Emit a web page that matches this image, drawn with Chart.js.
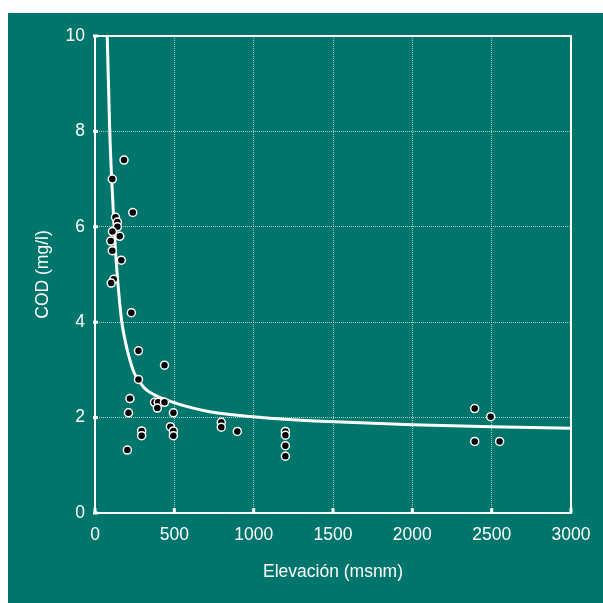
<!DOCTYPE html>
<html>
<head>
<meta charset="utf-8">
<script src="https://cdn.jsdelivr.net/npm/chart.js@4"></script>
<style>
    body { margin: 0; background: #ffffff; }
    #panel { position: absolute; left: 8px; top: 13px; width: 595px; height: 590px; background: #00756c; }
    canvas { display: block; }
</style>
</head>
<body>
<div id="panel"><canvas id="grafico-cod" width="595" height="590"></canvas></div>
<script>
// Puntos medidos: elevacion (msnm) y COD (mg/l)
const elevacion = [183, 109, 238, 129, 141, 141, 110, 156, 99, 109, 166, 118, 102,
    229, 274, 438, 274, 220, 375, 398, 438, 393, 211, 494, 475, 494, 494, 294, 294,
    796, 796, 897, 1200, 1200, 1200, 1200, 204, 2393, 2494, 2393, 2550]
const cod = [7.4, 7.0, 6.3, 6.2, 6.1, 6.0, 5.9, 5.8, 5.7, 5.5, 5.3, 4.9, 4.82,
    4.2, 3.4, 3.1, 2.8, 2.4, 2.32, 2.32, 2.32, 2.2, 2.1, 2.1, 1.81, 1.72, 1.62, 1.72, 1.62,
    1.9, 1.8, 1.71, 1.71, 1.63, 1.41, 1.19, 1.32, 2.19, 2.02, 1.5, 1.5]

// Curva de ajuste
const curvaX = [77, 93, 105, 122, 130, 148, 169, 189, 214, 248, 311, 378, 476, 582, 714, 924, 1176, 1386, 2000, 2500, 3000]
const curvaY = [10, 8.0, 7.0, 5.93, 5.45, 4.68, 4.0, 3.63, 3.28, 2.93, 2.62, 2.47, 2.34, 2.23, 2.13, 2.04, 1.97, 1.93, 1.85, 1.81, 1.775]

const ticksX = [0, 500, 1000, 1500, 2000, 2500, 3000]
const ticksY = [0, 2, 4, 6, 8, 10]

const fuente = { family: '"Liberation Sans", Arial, sans-serif', size: 17.5 }

// marco blanco y marcas de tick hacia dentro
const marco = {
    id: 'marco',
    beforeDatasetsDraw(chart) {
        const { ctx, chartArea: a, scales } = chart
        ctx.save()
        ctx.strokeStyle = '#ffffff'
        ctx.fillStyle = '#ffffff'
        ctx.lineWidth = 2
        ctx.strokeRect(a.left, a.top, a.right - a.left, a.bottom - a.top)
        ticksX.forEach(v => {
            const px = scales.x.getPixelForValue(v)
            ctx.fillRect(px - 1.5, a.bottom - 5, 3, 5)
        })
        ticksY.forEach(v => {
            const py = scales.y.getPixelForValue(v)
            ctx.fillRect(a.left - 2, py - 1.5, 5, 3)
        })
        ctx.restore()
    }
}

let graficoCod = new Chart(
    document.getElementById('grafico-cod'),
    {
        type: 'scatter',
        data: {
            datasets: [{
                label: 'COD',
                data: elevacion.map((x, i) => ({ x: x, y: cod[i] })),
                pointRadius: 4,
                pointBackgroundColor: '#000000',
                pointBorderColor: '#ffffff',
                pointBorderWidth: 1.5,
                order: 0
            }, {
                label: 'Ajuste',
                type: 'line',
                data: curvaX.map((x, i) => ({ x: x, y: curvaY[i] })),
                borderColor: '#ffffff',
                borderWidth: 3,
                pointRadius: 0,
                fill: false,
                cubicInterpolationMode: 'monotone',
                order: 1
            }]
        },
        options: {
            responsive: false,
            animation: false,
            devicePixelRatio: 1,
            layout: { padding: { top: 23, right: 32, left: 0, bottom: 0 } },
            plugins: {
                legend: { display: false },
                tooltip: { enabled: false }
            },
            scales: {
                x: {
                    type: 'linear',
                    min: 0,
                    max: 3000,
                    afterFit: s => { s.height = 90 },
                    afterBuildTicks: s => { s.ticks = ticksX.map(v => ({ value: v })) },
                    border: { display: false, dash: [1, 1] },
                    grid: { color: 'rgba(255,255,255,0.65)', drawTicks: false, lineWidth: 1 },
                    ticks: { color: '#ffffff', font: fuente, padding: 12, maxRotation: 0, callback: v => String(v) },
                    title: {
                        display: true,
                        text: 'Elevación (msnm)',
                        color: '#ffffff',
                        font: fuente,
                        padding: { top: 0, bottom: 20 }
                    }
                },
                y: {
                    min: 0,
                    max: 10,
                    afterFit: s => { s.width = 87 },
                    afterBuildTicks: s => { s.ticks = ticksY.map(v => ({ value: v })) },
                    border: { display: false, dash: [1, 1] },
                    grid: { color: 'rgba(255,255,255,0.65)', drawTicks: false, lineWidth: 1 },
                    ticks: { color: '#ffffff', font: fuente, padding: 10, callback: v => String(v) },
                    title: {
                        display: true,
                        text: 'COD (mg/l)',
                        color: '#ffffff',
                        font: fuente,
                        padding: { top: 25, bottom: 0 }
                    }
                }
            }
        },
        plugins: [marco]
    }
)
</script>
</body>
</html>
